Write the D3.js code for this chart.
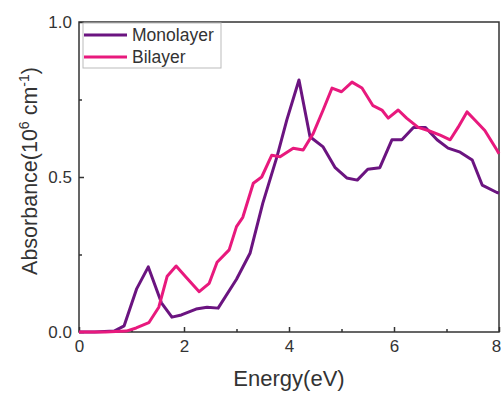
<!DOCTYPE html>
<html>
<head>
<meta charset="utf-8">
<script src="https://cdn.jsdelivr.net/npm/d3@7"></script>
<style>
  body { margin: 0; background: #fff; }
  svg { display: block; font-family: "Liberation Sans", Arial, sans-serif; }
</style>
</head>
<body>
<div id="grafico"></div>
<script>
// datos
const seriesNames = ["Monolayer", "Bilayer"];
const monoX = [0, 0.3, 0.67, 0.86, 1.1, 1.32, 1.57, 1.77, 1.95, 2.23, 2.44, 2.65, 3.0, 3.26, 3.5, 3.77, 3.96, 4.19, 4.4, 4.65, 4.88, 5.1, 5.3, 5.5, 5.73, 5.96, 6.15, 6.37, 6.6, 6.82, 7.03, 7.26, 7.49, 7.68, 7.96, 8.0];
const monoY = [0, 0, 0.003, 0.02, 0.14, 0.21, 0.094, 0.048, 0.055, 0.074, 0.08, 0.077, 0.17, 0.255, 0.415, 0.565, 0.685, 0.813, 0.63, 0.597, 0.53, 0.497, 0.49, 0.525, 0.53, 0.62, 0.62, 0.66, 0.66, 0.62, 0.593, 0.58, 0.555, 0.474, 0.45, 0.448];
const biX = [0, 0.5, 0.9, 1.09, 1.33, 1.52, 1.68, 1.85, 2.04, 2.29, 2.48, 2.63, 2.86, 3.0, 3.12, 3.32, 3.48, 3.67, 3.83, 4.08, 4.27, 4.46, 4.65, 4.82, 5.0, 5.2, 5.39, 5.6, 5.77, 5.89, 6.08, 6.24, 6.46, 6.65, 6.88, 7.07, 7.22, 7.39, 7.54, 7.73, 7.96, 8.0];
const biY = [0, 0, 0.003, 0.013, 0.03, 0.08, 0.18, 0.213, 0.177, 0.13, 0.157, 0.225, 0.265, 0.34, 0.37, 0.48, 0.5, 0.57, 0.565, 0.593, 0.587, 0.64, 0.716, 0.787, 0.775, 0.806, 0.787, 0.73, 0.716, 0.69, 0.716, 0.69, 0.66, 0.65, 0.635, 0.62, 0.66, 0.71, 0.684, 0.65, 0.587, 0.575];
const xTicks = [0, 2, 4, 6, 8];
const xMinor = [1, 3, 5, 7];
const yTicks = [0, 0.5, 1.0];
const yMinor = [0.25, 0.75];

const colores = ["#6b1480", "#e8197d"];

const margin = { top: 22, right: 2, bottom: 62, left: 79 };
const width = 501 - margin.left - margin.right;
const height = 394 - margin.top - margin.bottom;

const svgBase = d3.select("#grafico").append("svg")
  .attr("width", 501)
  .attr("height", 394);

const svg = svgBase.append("g")
  .attr("transform", `translate(${margin.left},${margin.top})`);

const x = d3.scaleLinear().domain([0, 8]).range([0, width]);
const y = d3.scaleLinear().domain([0, 1]).range([height, 0]);

// ejes con ticks hacia adentro
const ejeX = svg.append("g")
  .attr("transform", `translate(0,${height})`)
  .call(d3.axisBottom(x).tickValues(xTicks).tickSize(-5).tickPadding(8).tickFormat(d3.format("d")));
ejeX.append("g").call(d3.axisBottom(x).tickValues(xMinor).tickSize(-3).tickFormat(""));

const ejeY = svg.append("g")
  .call(d3.axisLeft(y).tickValues(yTicks).tickSize(-5).tickPadding(7).tickFormat(d3.format(".1f")));
ejeY.append("g").call(d3.axisLeft(y).tickValues(yMinor).tickSize(-3).tickFormat(""));

svg.selectAll(".domain").remove();
svg.selectAll(".tick line").attr("stroke", "#333").attr("stroke-width", 1.5);
svg.selectAll(".tick text").style("font-size", "17px").attr("fill", "#333");

// el "8" queda en el borde: lo corro un poco para que entre
ejeX.selectAll(".tick text").filter(d => d === 8).attr("dx", -3);

// marco
svg.append("rect")
  .attr("width", width)
  .attr("height", height)
  .attr("fill", "none")
  .attr("stroke", "#333")
  .attr("stroke-width", 1.5);

const datos = [
  monoX.map((v, i) => ({ e: v, a: monoY[i] })),
  biX.map((v, i) => ({ e: v, a: biY[i] }))
];

const linea = d3.line().x(d => x(d.e)).y(d => y(d.a));

// primero monolayer, bilayer encima
svg.selectAll(".serie")
  .data(datos)
  .enter().append("path")
  .attr("class", "serie")
  .attr("d", linea)
  .attr("fill", "none")
  .attr("stroke", (d, i) => colores[i])
  .attr("stroke-width", 3)
  .attr("stroke-linejoin", "round");

// leyenda
const leyenda = svg.append("g").attr("transform", "translate(4,1)");
leyenda.append("rect")
  .attr("width", 138)
  .attr("height", 45)
  .attr("fill", "#fff")
  .attr("stroke", "#bbb")
  .attr("stroke-width", 1);
seriesNames.forEach((n, i) => {
  const yy = 12 + i * 22;
  leyenda.append("line")
    .attr("x1", 1).attr("x2", 44)
    .attr("y1", yy).attr("y2", yy)
    .attr("stroke", colores[i])
    .attr("stroke-width", 3);
  leyenda.append("text")
    .attr("x", 49).attr("y", yy + 6)
    .style("font-size", "17.5px")
    .attr("fill", "#333")
    .text(n);
});

// titulos de ejes
svg.append("text")
  .attr("x", width / 2)
  .attr("y", height + 54)
  .attr("text-anchor", "middle")
  .style("font-size", "22px")
  .attr("fill", "#333")
  .text("Energy(eV)");

const tituloY = svg.append("text")
  .attr("transform", `translate(-42,${height / 2 - 6}) rotate(-90)`)
  .attr("text-anchor", "middle")
  .style("font-size", "21.5px")
  .attr("fill", "#333");
tituloY.append("tspan").text("Absorbance(10");
tituloY.append("tspan").attr("dy", -8).style("font-size", "14px").text("6");
tituloY.append("tspan").attr("dy", 8).text(" cm");
tituloY.append("tspan").attr("dy", -8).style("font-size", "14px").text("-1");
tituloY.append("tspan").attr("dy", 8).text(")");
</script>
</body>
</html>
